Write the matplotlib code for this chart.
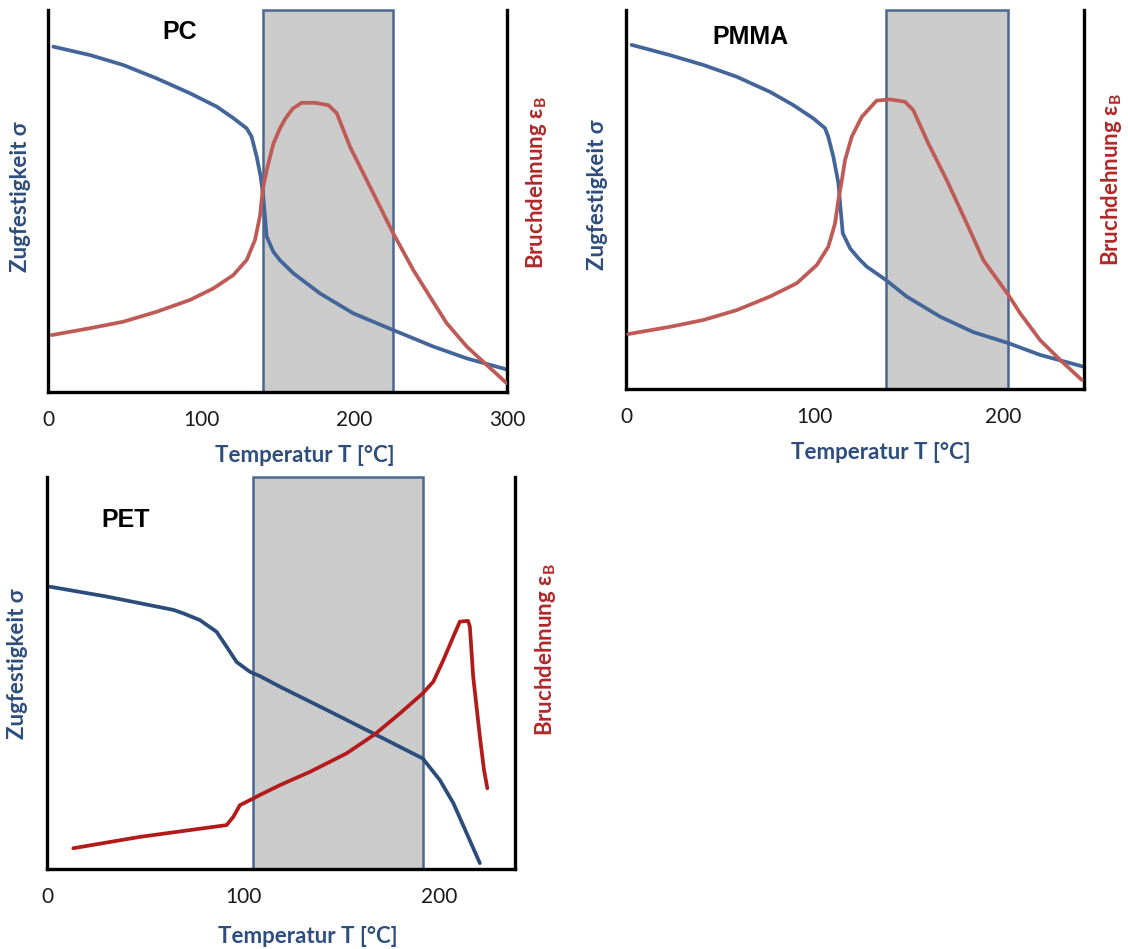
import matplotlib
matplotlib.use('Agg')
import matplotlib.pyplot as plt

plt.rcParams['font.family'] = ['Lato', 'DejaVu Sans']
plt.rcParams['mathtext.fontset'] = 'custom'
plt.rcParams['mathtext.rm'] = 'Lato'
plt.rcParams['mathtext.bf'] = 'Lato:bold'

# ---------------- data ----------------
x_label = 'Temperatur T [°C]'
left_label = 'Zugfestigkeit σ'
right_label = r'Bruchdehnung ε$_\mathregular{B}$'

# PC
pc_ticks = [0, 100, 200, 300]
pc_xmax = 300
pc_window = (140.8, 225.7)
pc_sigma_T = [3.5, 27.5, 49.2, 71, 92.8, 110.3, 121.1, 129.9, 133.1, 136.4, 139, 140.7, 141.8,
              142.9, 147.3, 151.6, 160.3, 177.8, 199.5, 225.7, 251.8, 273.7, 299.8]
pc_sigma = [0.904, 0.882, 0.856, 0.821, 0.782, 0.747, 0.717, 0.690, 0.668, 0.616, 0.564, 0.511,
            0.459, 0.407, 0.367, 0.345, 0.311, 0.258, 0.206, 0.162, 0.119, 0.088, 0.059]
pc_eps_T = [2.4, 27.5, 49.2, 71, 92.8, 108, 121.1, 129.9, 135.3, 138.6, 140.3, 142.9, 147.3, 151.6,
            155, 160, 165.8, 174.5, 183.2, 188.7, 197.4, 210.5, 225.7, 238.8, 249.7, 260.6, 273.7,
            286.7, 299.8]
pc_eps = [0.149, 0.167, 0.184, 0.210, 0.241, 0.271, 0.306, 0.346, 0.398, 0.462, 0.529, 0.580,
          0.650, 0.690, 0.715, 0.742, 0.757, 0.757, 0.751, 0.730, 0.642, 0.537, 0.415, 0.319,
          0.249, 0.180, 0.119, 0.071, 0.023]

# PMMA
pmma_ticks = [0, 100, 200]
pmma_xmax = 243
pmma_window = (137.8, 202.9)
pmma_sigma_T = [3, 23.3, 41, 58.7, 76.4, 88.8, 99.4, 105.6, 107.3, 110, 112.7, 113.9, 115, 118.9,
                123.3, 127.7, 137.8, 148.9, 166.6, 184.3, 202.9, 219.7, 242.6]
pmma_sigma = [0.908, 0.881, 0.855, 0.824, 0.784, 0.749, 0.714, 0.688, 0.666, 0.613, 0.543, 0.472,
              0.411, 0.371, 0.345, 0.323, 0.288, 0.244, 0.191, 0.150, 0.121, 0.090, 0.059]
pmma_eps_T = [1.2, 23.3, 41, 58.7, 76.4, 90.6, 101.2, 107.3, 110.9, 112.7, 114.5, 116.2, 119.8,
              125.1, 133, 140.1, 148, 152.4, 160.4, 170.2, 180.8, 189.6, 202.9, 209.1, 219.7,
              230.3, 241.8]
pmma_eps = [0.145, 0.164, 0.182, 0.208, 0.244, 0.279, 0.327, 0.375, 0.437, 0.499, 0.550, 0.604,
            0.666, 0.718, 0.761, 0.764, 0.758, 0.736, 0.648, 0.551, 0.437, 0.340, 0.248, 0.200,
            0.129, 0.077, 0.024]

# PET
pet_ticks = [0, 100, 200]
pet_xmax = 238.4
pet_window = (105.1, 191.4)
pet_sigma_T = [1.6, 30.4, 47.4, 64.4, 69.5, 77.9, 86.4, 91.5, 96.6, 103.4, 108.5, 118.7, 142.4,
               166.2, 191.4, 200.1, 207, 213.8, 220.5]
pet_sigma = [0.720, 0.695, 0.678, 0.661, 0.652, 0.635, 0.605, 0.567, 0.528, 0.503, 0.492, 0.465,
             0.406, 0.346, 0.282, 0.227, 0.168, 0.091, 0.015]
pet_eps_T = [13.4, 47.4, 91.5, 94.9, 98.3, 105.1, 108.5, 118.7, 134, 152.6, 167.1, 179.8, 191.4,
             196.8, 201.9, 207, 210.3, 214.5, 215.4, 217.1, 220.5, 222.6, 224.3]
pet_eps = [0.053, 0.082, 0.112, 0.133, 0.163, 0.180, 0.189, 0.214, 0.248, 0.295, 0.344, 0.397,
           0.448, 0.478, 0.533, 0.593, 0.631, 0.633, 0.618, 0.491, 0.338, 0.253, 0.206]

# ---------------- figure ----------------
W, H = 1128, 949
fig = plt.figure(figsize=(W / 100, H / 100), dpi=100)

BLUE_TXT = '#2d4d7c'
RED_TXT = '#b0282a'
BOX_FILL = '#cbcbcb'
BOX_EDGE = '#4a6890'
LAB_FS = 16


def rect(l, r, t, b):
    return [l / W, (H - b) / H, (r - l) / W, (b - t) / H]


def panel(pos, xmax, ticks, window, sT, sV, eT, eV, title, title_xy, lab_pos,
          blue, red):
    ax = fig.add_axes(pos)
    ax.set_xlim(0, xmax)
    ax.set_ylim(0, 1)
    ax.axvspan(window[0], window[1], ymin=0, ymax=1, facecolor=BOX_FILL,
               edgecolor=BOX_EDGE, lw=1.8, clip_on=False, zorder=1)
    ax.plot(sT, sV, color=blue, lw=2.7, zorder=3, solid_joinstyle='round',
            solid_capstyle='round')
    ax2 = ax.twinx()
    ax2.set_ylim(0, 1)
    ax2.plot(eT, eV, color=red, lw=2.7, zorder=3, solid_joinstyle='round',
             solid_capstyle='round')
    for s in ax2.spines.values():
        s.set_visible(False)
    ax.spines['top'].set_visible(False)
    for k in ('left', 'right', 'bottom'):
        ax.spines[k].set_linewidth(2.4)
        ax.spines[k].set_color('black')
        ax.spines[k].set_zorder(5)
    ax.set_yticks([])
    ax2.set_yticks([])
    ax.set_xticks(ticks)
    ax.set_xticklabels([str(t) for t in ticks])
    ax.tick_params(axis='x', length=0, pad=13, labelsize=15, labelcolor='#1a1a1a')
    ax.text(title_xy[0], title_xy[1], title, transform=ax.transAxes, ha='center',
            va='center', fontsize=18, fontweight='bold', color='black',
            family=['Liberation Sans', 'DejaVu Sans'])
    (lx, ly), (rx, ry), (bx, by) = lab_pos
    ax.text(lx, ly, left_label, transform=ax.transAxes, rotation=90, ha='center',
            va='center', fontsize=LAB_FS, fontweight='bold', color=BLUE_TXT)
    ax.text(rx, ry, right_label, transform=ax.transAxes, rotation=90, ha='center',
            va='center', fontsize=LAB_FS, fontweight='bold', color=RED_TXT)
    ax.text(bx, by, x_label, transform=ax.transAxes, ha='center', va='center',
            fontsize=LAB_FS, fontweight='bold', color=BLUE_TXT)
    return ax


panel(rect(48, 507, 10, 392), pc_xmax, pc_ticks, pc_window,
      pc_sigma_T, pc_sigma, pc_eps_T, pc_eps, 'PC', (0.287, 0.942),
      ((-0.061, 0.51), (1.065, 0.547), (0.559, -0.165)),
      '#44659a', '#bf5b57')

panel(rect(626, 1084, 10, 389), pmma_xmax, pmma_ticks, pmma_window,
      pmma_sigma_T, pmma_sigma, pmma_eps_T, pmma_eps, 'PMMA', (0.271, 0.929),
      ((-0.063, 0.513), (1.06, 0.553), (0.557, -0.168)),
      '#44659a', '#bf5b57')

panel(rect(47, 515, 477, 869), pet_xmax, pet_ticks, pet_window,
      pet_sigma_T, pet_sigma, pet_eps_T, pet_eps, 'PET', (0.167, 0.89),
      ((-0.062, 0.523), (1.066, 0.559), (0.558, -0.173)),
      '#2c4c7c', '#b31b1b')

fig.savefig('out.png', dpi=100)
